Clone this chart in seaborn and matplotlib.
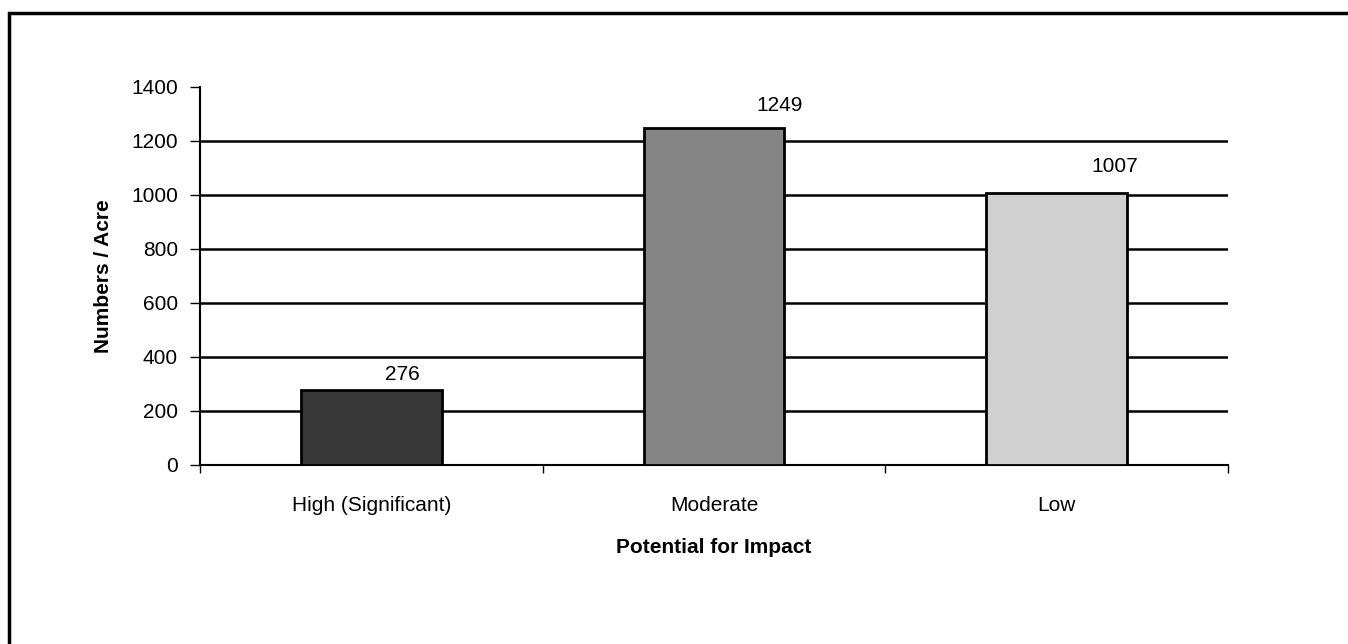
import matplotlib
matplotlib.use("Agg")
import matplotlib.pyplot as plt
from matplotlib.patches import Rectangle
import seaborn as sns
import pandas as pd

categories = ["High (Significant)", "Moderate", "Low"]
values = [276, 1249, 1007]
y_ticks = [0, 200, 400, 600, 800, 1000, 1200, 1400]
bar_colors = ["#383838", "#858585", "#d0d0d0"]
label_offsets = [(22, 5), (47, 9), (42, 12)]  # points, style only

sns.set_theme(style="white")
plt.rcParams["font.family"] = ["Liberation Sans", "DejaVu Sans"]
plt.rcParams["text.color"] = "black"
plt.rcParams["axes.labelcolor"] = "black"
plt.rcParams["xtick.color"] = "black"
plt.rcParams["ytick.color"] = "black"

FS = 15

df = pd.DataFrame({"cat": categories, "val": values})

fig = plt.figure(figsize=(13.48, 6.44), dpi=100)
ax = fig.add_axes([200 / 1348, 1 - 465 / 644, 1028 / 1348, 378 / 644])

sns.barplot(data=df, x="cat", y="val", hue="cat", palette=dict(zip(categories, bar_colors)),
            width=0.41, edgecolor="black", linewidth=2.0, legend=False, ax=ax, zorder=3)

ax.set_ylim(0, 1400)
ax.set_xlim(-0.5, len(categories) - 0.5)
ax.set_yticks(y_ticks)
ax.set_yticklabels([str(t) for t in y_ticks], fontsize=FS)
ax.set_xticks(range(len(categories)))
ax.set_xticklabels(categories, fontsize=FS)
ax.set_xticks([i - 0.5 for i in range(len(categories) + 1)], minor=True)
ax.tick_params(axis="x", which="major", length=0, pad=22, bottom=True)
ax.tick_params(axis="x", which="minor", length=6, width=1, color="black", direction="out", bottom=True)
ax.tick_params(axis="y", which="major", length=7, width=1, color="black", direction="out", pad=9, left=True)

ax.yaxis.grid(True, color="black", linewidth=1.8, zorder=0)
ax.set_axisbelow(True)
for gl, t in zip(ax.get_ygridlines(), y_ticks):
    if t in (0, 1400):
        gl.set_visible(False)

for s in ["top", "right"]:
    ax.spines[s].set_visible(False)
for s in ["left", "bottom"]:
    ax.spines[s].set_color("black")
    ax.spines[s].set_linewidth(1.5)

ax.set_xlabel("Potential for Impact", fontsize=FS, fontweight="bold", labelpad=17)
ax.set_ylabel("Numbers / Acre", fontsize=FS, fontweight="bold", labelpad=13)

for i, (v, off) in enumerate(zip(values, label_offsets)):
    ax.annotate(str(v), (i, v), xytext=off, textcoords="offset points",
                ha="center", va="bottom", fontsize=FS, color="black")

border = Rectangle((9 / 1348, -0.2), 1.5, 1.2 - 13 / 644, transform=fig.transFigure,
                   fill=False, edgecolor="black", linewidth=2.5, clip_on=False)
fig.patches.append(border)

fig.savefig("out.png", dpi=100, facecolor="white")
